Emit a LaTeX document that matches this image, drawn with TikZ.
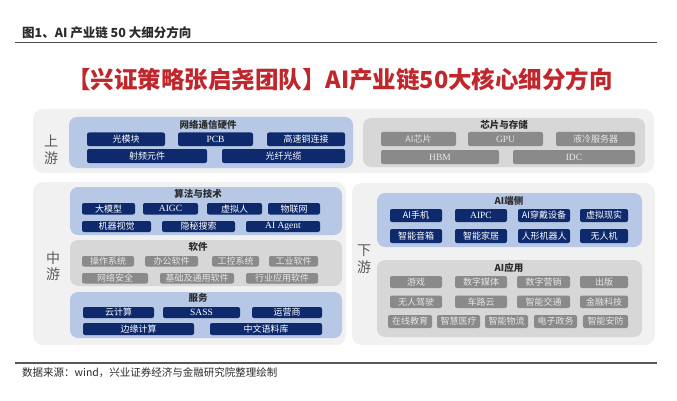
\documentclass[tikz,border=0pt]{standalone}
\usepackage{fontspec}
\setmainfont{Liberation Serif}
\newfontfamily\cjk{Noto Sans CJK SC}
\definecolor{outerbg}{HTML}{F1F1F2}
\definecolor{bluepanel}{HTML}{B6C8E6}
\definecolor{navy}{HTML}{0F2A6C}
\definecolor{graypanel}{HTML}{D7D7D7}
\definecolor{graybox}{HTML}{8A8A8A}
\definecolor{grayboxtext}{HTML}{E6E6E6}
\definecolor{titlered}{HTML}{C0272D}
\definecolor{hdrtext}{HTML}{2B2B2B}
\definecolor{stagetext}{HTML}{5A5A5A}
\newcommand\mybox[7]{\node[#1, minimum width={#4pt-#3pt}, minimum height={#6pt-#5pt}] (#2) at ({(#3+#4)/2},{(#5+#6)/2}) {#7};}
\begin{document}
\begin{tikzpicture}[x=1pt,y=-1pt,
  outerband/.style={fill=outerbg, rounded corners=10pt, inner sep=0pt, outer sep=0pt},
  bpanel/.style={fill=bluepanel, rounded corners=8pt, inner sep=0pt, outer sep=0pt},
  gpanel/.style={fill=graypanel, rounded corners=8pt, inner sep=0pt, outer sep=0pt},
  nbox/.style={fill=navy, rounded corners=2pt, inner sep=0pt, outer sep=0pt, text=white, font=\cjk\fontsize{9}{10}\selectfont},
  nboxl/.style={nbox, font=\rmfamily\fontsize{9.5}{10}\selectfont},
  gbox/.style={fill=graybox, rounded corners=2pt, inner sep=0pt, outer sep=0pt, text=grayboxtext, font=\cjk\fontsize{9}{10}\selectfont},
  gboxl/.style={gbox, font=\rmfamily\fontsize{9.5}{10}\selectfont},
  ptitle/.style={inner sep=0pt, text=hdrtext, font=\cjk\bfseries\fontsize{9.5}{11}\selectfont},
  stage/.style={inner sep=0pt, text=stagetext, align=center, font=\cjk\fontsize{14}{16.5}\selectfont}
]
\useasboundingbox (0,0) rectangle (677,401);
\fill[white] (0,0) rectangle (677,401);

% header
\node[anchor=west, inner sep=0pt, text=hdrtext, font=\cjk\bfseries\fontsize{12.5}{14}\selectfont] (hdr) at (22,33) {图1、AI 产业链 50 大细分方向};
\draw[line width=1pt, color=black!70] (15,43) -- (657,43);

% title
\node[inner sep=0pt, text=titlered, font=\cjk\bfseries\fontsize{23.5}{26}\selectfont] (title) at (340,80) {【兴证策略张启尧团队】AI产业链50大核心细分方向};

% outer bands
\mybox{outerband}{upband}{33}{654}{109}{173}{}
\mybox{outerband}{midband}{33}{346}{182}{345}{}
\mybox{outerband}{downband}{352}{655}{183}{345}{}

% stage labels
\node[stage] (up) at (51,150) {上\\游};
\node[stage] (mid) at (53,266) {中\\游};
\node[stage] (down) at (364,259) {下\\游};

% ---------- upstream ----------
\mybox{bpanel}{net}{69}{353}{117}{168}{}
\node[ptitle] (nettitle) at (208,124.5) {网络通信硬件};
\mybox{nbox}{n1}{87}{165}{132.5}{146}{光模块}
\mybox{nboxl}{n2}{178}{253}{132.5}{146}{PCB}
\mybox{nbox}{n3}{267}{345}{132.5}{146}{高速铜连接}
\mybox{nbox}{n4}{87}{207}{149}{163}{射频元件}
\mybox{nbox}{n5}{222}{345}{149}{163}{光纤光缆}

\mybox{gpanel}{chip}{363}{645}{118}{167}{}
\node[ptitle] (chiptitle) at (504,124.5) {芯片与存储};
\mybox{gbox}{c1}{381}{456}{132}{146}{AI芯片}
\mybox{gboxl}{c2}{468}{543}{132}{146}{GPU}
\mybox{gbox}{c3}{556}{635}{132}{146}{液冷服务器}
\mybox{gboxl}{c4}{381}{499}{150}{164}{HBM}
\mybox{gboxl}{c5}{513}{635}{150}{164}{IDC}

% ---------- midstream ----------
\mybox{bpanel}{algo}{70}{342}{187}{235}{}
\node[ptitle] (algotitle) at (198,194) {算法与技术};
\mybox{nbox}{a1}{82}{135}{203}{214.5}{大模型}
\mybox{nboxl}{a2}{143}{198}{203}{214.5}{AIGC}
\mybox{nbox}{a3}{207}{262}{203}{214.5}{虚拟人}
\mybox{nbox}{a4}{268}{320}{203}{214.5}{物联网}
\mybox{nbox}{a5}{82}{151}{221}{232}{机器视觉}
\mybox{nbox}{a6}{162}{235}{221}{232}{隐秘搜索}
\mybox{nboxl}{a7}{246}{320}{221}{232}{AI Agent}

\mybox{gpanel}{soft}{70}{342}{240}{286}{}
\node[ptitle] (softtitle) at (198,247) {软件};
\mybox{gbox}{s1}{82}{134}{256}{266.5}{操作系统}
\mybox{gbox}{s2}{145}{198}{256}{266.5}{办公软件}
\mybox{gbox}{s3}{212}{259}{256}{266.5}{工控系统}
\mybox{gbox}{s4}{269}{318}{256}{266.5}{工业软件}
\mybox{gbox}{s5}{82}{148}{273}{283.5}{网络安全}
\mybox{gbox}{s6}{160}{234}{273}{283.5}{基础及通用软件}
\mybox{gbox}{s7}{246}{318}{273}{283.5}{行业应用软件}

\mybox{bpanel}{serv}{70}{342}{292}{338}{}
\node[ptitle] (servtitle) at (198,298) {服务};
\mybox{nbox}{v1}{83}{154}{307}{318}{云计算}
\mybox{nboxl}{v2}{163}{240}{307}{318}{SASS}
\mybox{nbox}{v3}{252}{322}{307}{318}{运营商}
\mybox{nbox}{v4}{83}{194}{323}{335}{边缘计算}
\mybox{nbox}{v5}{210}{322}{323}{335}{中文语料库}

% ---------- downstream ----------
\mybox{bpanel}{edge}{377}{642}{193}{247}{}
\node[ptitle] (edgetitle) at (509,200.5) {AI端侧};
\mybox{nbox}{e1}{390}{442}{209}{222}{AI手机}
\mybox{nboxl}{e2}{455}{507}{209}{222}{AIPC}
\mybox{nbox}{e3}{518}{570}{209}{222}{AI穿戴设备}
\mybox{nbox}{e4}{580}{628}{209}{222}{虚拟现实}
\mybox{nbox}{e5}{390}{442}{229}{243}{智能音箱}
\mybox{nbox}{e6}{455}{507}{229}{243}{智能家居}
\mybox{nbox}{e7}{518}{570}{229}{243}{人形机器人}
\mybox{nbox}{e8}{580}{628}{229}{243}{无人机}

\mybox{gpanel}{app}{377}{642}{260}{337}{}
\node[ptitle] (apptitle) at (509,267.5) {AI应用};
\mybox{gbox}{p1}{390}{442}{276}{288}{游戏}
\mybox{gbox}{p2}{455}{507}{276}{288}{数字媒体}
\mybox{gbox}{p3}{517}{570}{276}{288}{数字营销}
\mybox{gbox}{p4}{580}{628}{276}{288}{出版}
\mybox{gbox}{p5}{390}{442}{295.5}{308}{无人驾驶}
\mybox{gbox}{p6}{455}{507}{295.5}{308}{车路云}
\mybox{gbox}{p7}{517}{570}{295.5}{308}{智能交通}
\mybox{gbox}{p8}{580}{628}{295.5}{308}{金融科技}
\mybox{gbox}{p9}{388}{432}{315}{328}{在线教育}
\mybox{gbox}{p10}{437}{480}{315}{328}{智慧医疗}
\mybox{gbox}{p11}{485}{528}{315}{328}{智能物流}
\mybox{gbox}{p12}{534}{577}{315}{328}{电子政务}
\mybox{gbox}{p13}{583}{628}{315}{328}{智能安防}

% footer
\draw[line width=1.3pt, color=black!65] (15,363) -- (657,363);
\node[anchor=west, inner sep=0pt, text=hdrtext, font=\cjk\fontsize{10.5}{12}\selectfont] (src) at (22,373) {数据来源：wind，兴业证券经济与金融研究院整理绘制};
\end{tikzpicture}
\end{document}
